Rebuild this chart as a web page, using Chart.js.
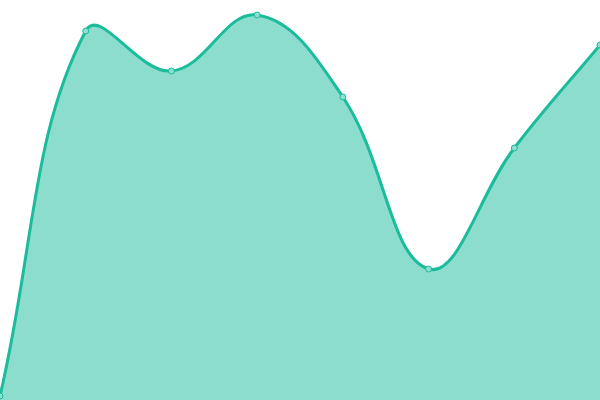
<!DOCTYPE html>
<html>
<head>
<meta charset="utf-8">
<script src="https://cdn.jsdelivr.net/npm/chart.js@4"></script>
<style>
  html, body { margin: 0; padding: 0; background: #fff; overflow: hidden; }
  /* chart.js keeps a 5px margin for the points; push it off the page */
  #wrap { width: 610px; height: 410px; margin: -5px 0 0 -5px; }
</style>
</head>
<body>
<div id="wrap"><canvas id="areaChart"></canvas></div>
<script>
const labels = ['1', '2', '3', '4', '5', '6', '7', '8'];
const values = [1, 92.25, 82.25, 96.25, 75.75, 32.75, 63, 88.75];

document.addEventListener('DOMContentLoaded', function() {
    const ctx = document.getElementById('areaChart').getContext('2d');

    new Chart(ctx, {
        type: 'line',
        data: {
            labels: labels,
            datasets: [{
                data: values,
                fill: 'origin',
                backgroundColor: 'rgba(26, 188, 156, 0.5)',
                borderColor: '#1abc9c',
                borderWidth: 3,
                tension: 0.4,
                pointRadius: 3,
                pointBorderWidth: 1,
                pointBackgroundColor: 'rgba(140, 224, 207, 1)',
                pointBorderColor: '#1abc9c'
            }]
        },
        options: {
            responsive: true,
            maintainAspectRatio: false,
            animation: false,
            plugins: {
                legend: { display: false },
                tooltip: { enabled: false }
            },
            scales: {
                x: { display: false },
                y: { display: false, min: 0, max: 100 }
            }
        }
    });
});
</script>
</body>
</html>
